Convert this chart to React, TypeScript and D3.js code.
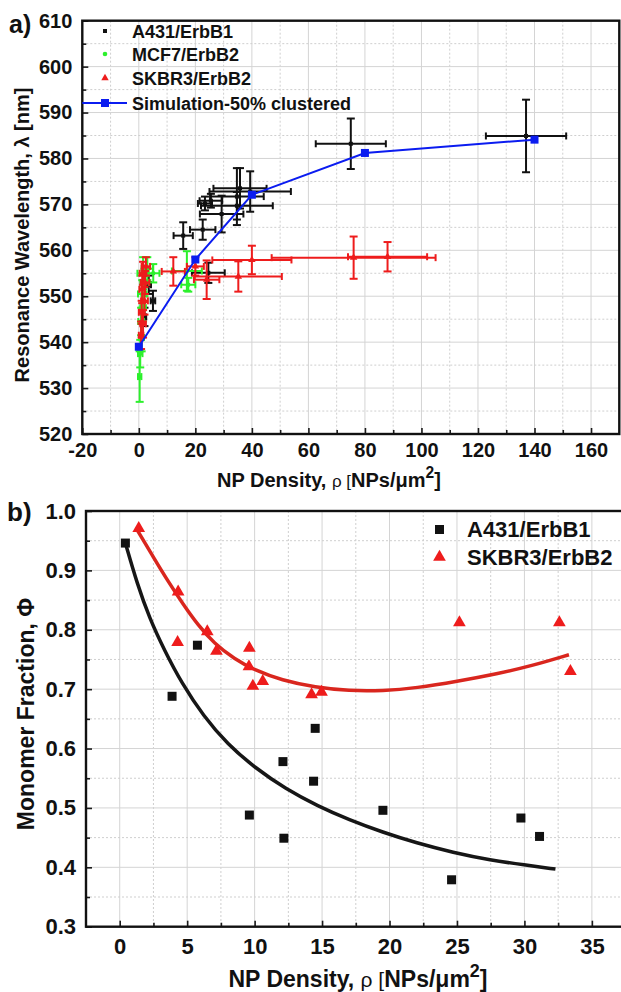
import * as d3 from 'd3';
import React, { useEffect, useRef } from 'react';

// a) rows are [density, wavelength, density error, wavelength error]
const a431Shift = [
  [137.0, 584.9, 14.2, 7.9],
  [75.0, 583.2, 12.4, 5.5],
  [39.4, 572.8, 14.4, 4.4],
  [35.8, 573.5, 9.4, 4.4],
  [34.7, 571.7, 9.5, 6.2],
  [34.7, 569.7, 12.7, 3.0],
  [29.3, 567.9, 7.7, 4.0],
  [25.5, 570.8, 4.0, 1.5],
  [23.4, 570.2, 2.5, 1.5],
  [22.6, 564.5, 4.5, 2.2],
  [15.7, 563.2, 3.4, 2.9],
  [24.6, 555.1, 5.8, 2.2],
  [5.0, 549.0, 0.8, 2.2],
  [3.5, 552.5, 0.8, 2.0],
  [2.0, 545.5, 0.6, 2.0],
];

const mcf7Shift = [
  [0.3, 532.5, 0.6, 5.5],
  [0.5, 537.5, 0.8, 3.0],
  [1.0, 541.0, 0.8, 3.0],
  [0.8, 544.5, 1.0, 3.0],
  [1.5, 547.5, 1.0, 3.0],
  [1.2, 550.5, 1.5, 3.0],
  [2.0, 553.0, 1.5, 3.0],
  [1.5, 555.0, 2.0, 3.5],
  [3.0, 556.0, 2.0, 2.5],
  [5.1, 555.0, 2.2, 2.0],
  [17.0, 555.5, 5.3, 4.3],
  [17.5, 552.5, 2.5, 1.5],
];

const skbr3Shift = [
  [0.8, 541.5, 0.8, 3.0],
  [1.5, 544.0, 1.0, 3.0],
  [1.0, 546.5, 1.0, 2.5],
  [2.0, 549.0, 1.2, 3.0],
  [1.2, 551.5, 1.0, 3.0],
  [2.2, 553.0, 1.5, 2.5],
  [1.5, 555.0, 1.2, 2.5],
  [2.5, 556.5, 1.5, 2.0],
  [12.2, 555.4, 4.1, 3.1],
  [20.0, 556.5, 3.0, 2.0],
  [24.0, 553.6, 4.5, 4.2],
  [35.2, 554.3, 15.4, 3.3],
  [40.0, 557.9, 14.0, 3.1],
  [76.0, 558.4, 29.0, 4.6],
  [88.0, 558.6, 14.0, 3.2],
];

const simDensity = [0, 20, 40, 80, 140];
const simWavelength = [539.0, 558.0, 572.1, 581.2, 584.1];

// b) monomer fraction
const a431Density = [0.42, 3.88, 5.76, 9.61, 12.1, 12.17, 14.37, 14.49, 19.51, 24.6, 29.74, 31.12];
const a431Fraction = [0.946, 0.688, 0.774, 0.488, 0.578, 0.449, 0.545, 0.634, 0.496, 0.379, 0.483, 0.452];
const skbr3Density = [1.41, 4.33, 4.29, 6.49, 7.17, 9.61, 9.58, 9.87, 10.6, 14.22, 14.96, 25.18, 32.59, 33.41];
const skbr3Fraction = [0.971, 0.864, 0.779, 0.797, 0.764, 0.769, 0.738, 0.705, 0.713, 0.691, 0.695, 0.812, 0.812, 0.73];

// fit curves
const a431FitDensity = [0.42, 1.3, 2.2, 3.3, 4.6, 6.2, 8, 10, 12.3, 14.7, 17, 19.5, 22, 24.7, 27.5, 30, 32.3];
const a431FitFraction = [0.946, 0.877, 0.82, 0.766, 0.71, 0.655, 0.607, 0.568, 0.532, 0.503, 0.48, 0.459, 0.441, 0.425, 0.412, 0.404, 0.397];
const skbr3FitDensity = [1.3, 2.5, 3.6, 4.7, 5.8, 7, 8.5, 10, 12, 14.5, 17, 19.5, 22, 25, 28, 30.5, 33.3];
const skbr3FitFraction = [0.968, 0.922, 0.881, 0.843, 0.808, 0.777, 0.751, 0.732, 0.715, 0.703, 0.697, 0.697, 0.702, 0.713, 0.726, 0.739, 0.758];

const BLACK = '#111111';
const GREEN = '#2cf02c';
const RED = '#ee1c1c';
const BLUE = '#0b1cf0';
const FONT = '"Liberation Sans", Arial, Helvetica, sans-serif';

const frameA = { left: 82.3, right: 619.3, top: 20.7, bottom: 434 };
const frameB = { left: 86, right: 625.6, top: 511, bottom: 926.7 };

const grid = (g, x, y, xv, xMajor, yv, yMajor, f) => {
  g.append('g').selectAll('line').data(xv).join('line')
    .attr('x1', d => x(d)).attr('x2', d => x(d))
    .attr('y1', f.top).attr('y2', f.bottom)
    .attr('stroke', d => xMajor(d) ? '#d4d4d4' : '#cfcfcf')
    .attr('stroke-width', 1)
    .attr('stroke-dasharray', d => xMajor(d) ? null : '2,2');
  g.append('g').selectAll('line').data(yv).join('line')
    .attr('y1', d => y(d)).attr('y2', d => y(d))
    .attr('x1', f.left).attr('x2', f.right)
    .attr('stroke', d => yMajor(d) ? '#d4d4d4' : '#cfcfcf')
    .attr('stroke-width', 1)
    .attr('stroke-dasharray', d => yMajor(d) ? null : '2,2');
};

const axisGroup = (g, axis, transform, size) => {
  const a = g.append('g').attr('transform', transform).call(axis);
  a.select('.domain').remove();
  a.selectAll('line').attr('stroke', '#1a1a1a').attr('stroke-width', 1.6);
  a.selectAll('text')
    .attr('fill', '#111')
    .style('font-size', size + 'px')
    .style('font-weight', 'bold')
    .style('font-family', FONT);
  return a;
};

const errorBars = (g, rows, x, y, color) => {
  const cap = 3.5;
  const eb = g.append('g').attr('stroke', color).attr('stroke-width', 2).attr('fill', 'none');
  rows.forEach(([px, py, ex, ey]) => {
    const cx = x(px), cy = y(py);
    const x0 = x(px - ex), x1 = x(px + ex), y0 = y(py - ey), y1 = y(py + ey);
    eb.append('line').attr('x1', x0).attr('x2', x1).attr('y1', cy).attr('y2', cy);
    eb.append('line').attr('x1', cx).attr('x2', cx).attr('y1', y0).attr('y2', y1);
    eb.append('line').attr('x1', x0).attr('x2', x0).attr('y1', cy - cap).attr('y2', cy + cap);
    eb.append('line').attr('x1', x1).attr('x2', x1).attr('y1', cy - cap).attr('y2', cy + cap);
    eb.append('line').attr('x1', cx - cap - 0.5).attr('x2', cx + cap + 0.5).attr('y1', y0).attr('y2', y0);
    eb.append('line').attr('x1', cx - cap - 0.5).attr('x2', cx + cap + 0.5).attr('y1', y1).attr('y2', y1);
  });
};

const densityTitle = (g, cx, cy, size, rhoSize) => {
  const t = g.append('text')
    .attr('x', cx).attr('y', cy)
    .attr('text-anchor', 'middle')
    .attr('font-size', size)
    .attr('font-weight', 'bold')
    .attr('fill', '#111');
  t.append('tspan').text('NP Density, ');
  t.append('tspan').attr('font-weight', 'normal').attr('font-size', rhoSize).text('ρ ');
  t.append('tspan').attr('font-weight', 'normal').attr('font-size', rhoSize).text('[');
  t.append('tspan').text('NPs/μm');
  t.append('tspan').attr('dy', -size * 0.45).attr('font-size', size * 0.78).text('2');
  t.append('tspan').attr('dy', size * 0.45).text(']');
};

const App = () => {
  const svgRef = useRef(null);

  useEffect(() => {
    const svg = d3.select(svgRef.current);
    svg.selectAll('*').remove();

    // ---------- a) ----------
    const xA = d3.scaleLinear().domain([-20, 170]).range([frameA.left, frameA.right]);
    const yA = d3.scaleLinear().domain([520, 610]).range([frameA.bottom, frameA.top]);
    const gA = svg.append('g');

    grid(gA, xA, yA, d3.range(-10, 170, 10), d => d % 20 === 0, d3.range(525, 610, 5), d => d % 10 === 0, frameA);

    axisGroup(gA, d3.axisBottom(xA).tickValues(d3.range(-20, 161, 20)).tickSize(-6).tickPadding(9).tickFormat(d => String(d)),
      `translate(0,${frameA.bottom})`, 20);
    axisGroup(gA, d3.axisBottom(xA).tickValues(d3.range(-10, 170, 20)).tickSize(-4).tickFormat(() => ''),
      `translate(0,${frameA.bottom})`, 20);
    axisGroup(gA, d3.axisLeft(yA).tickValues(d3.range(520, 611, 10)).tickSize(-6).tickPadding(10).tickFormat(d => String(d)),
      `translate(${frameA.left},0)`, 20);
    axisGroup(gA, d3.axisLeft(yA).tickValues(d3.range(525, 610, 10)).tickSize(-4).tickFormat(() => ''),
      `translate(${frameA.left},0)`, 20);

    errorBars(gA, a431Shift, xA, yA, BLACK);
    gA.append('g').selectAll('rect').data(a431Shift).join('rect')
      .attr('x', d => xA(d[0]) - 2).attr('y', d => yA(d[1]) - 2)
      .attr('width', 4).attr('height', 4).attr('fill', BLACK);

    errorBars(gA, mcf7Shift, xA, yA, GREEN);
    gA.append('g').selectAll('circle').data(mcf7Shift).join('circle')
      .attr('cx', d => xA(d[0])).attr('cy', d => yA(d[1])).attr('r', 2.2).attr('fill', GREEN);

    errorBars(gA, skbr3Shift, xA, yA, RED);
    const tri = d3.symbol().type(d3.symbolTriangle).size(24);
    gA.append('g').selectAll('path').data(skbr3Shift).join('path')
      .attr('transform', d => `translate(${xA(d[0])},${yA(d[1])})`)
      .attr('d', tri).attr('fill', RED);

    const simLine = d3.line().x(i => xA(simDensity[i])).y(i => yA(simWavelength[i]));
    gA.append('path').attr('d', simLine(d3.range(simDensity.length)))
      .attr('fill', 'none').attr('stroke', BLUE).attr('stroke-width', 2);
    gA.append('g').selectAll('rect').data(d3.range(simDensity.length)).join('rect')
      .attr('x', i => xA(simDensity[i]) - 4).attr('y', i => yA(simWavelength[i]) - 4)
      .attr('width', 8).attr('height', 8).attr('fill', BLUE);

    gA.append('rect')
      .attr('x', frameA.left).attr('y', frameA.top)
      .attr('width', frameA.right - frameA.left).attr('height', frameA.bottom - frameA.top)
      .attr('fill', 'none').attr('stroke', '#111').attr('stroke-width', 2.4);

    // legend a
    const legA = gA.append('g').attr('font-size', 18).attr('font-weight', 'bold').attr('fill', '#111');
    const legRows = [31, 54, 78, 103];
    legA.append('rect').attr('x', 103).attr('y', legRows[0] - 2).attr('width', 4).attr('height', 4).attr('fill', BLACK);
    legA.append('circle').attr('cx', 105).attr('cy', legRows[1]).attr('r', 2.3).attr('fill', GREEN);
    legA.append('path').attr('transform', `translate(105,${legRows[2]})`).attr('d', tri).attr('fill', RED);
    legA.append('line').attr('x1', frameA.left).attr('x2', 127).attr('y1', legRows[3]).attr('y2', legRows[3])
      .attr('stroke', BLUE).attr('stroke-width', 2);
    legA.append('rect').attr('x', 101).attr('y', legRows[3] - 4).attr('width', 8).attr('height', 8).attr('fill', BLUE);
    ['A431/ErbB1', 'MCF7/ErbB2', 'SKBR3/ErbB2', 'Simulation-50% clustered'].forEach((s, i) => {
      legA.append('text').attr('x', 132).attr('y', legRows[i] + 6.5).text(s);
    });

    densityTitle(gA, 329, 487, 20, 17);
    gA.append('text')
      .attr('transform', 'translate(29,235) rotate(-90)')
      .attr('text-anchor', 'middle')
      .attr('font-size', 20).attr('font-weight', 'bold').attr('fill', '#111')
      .text('Resonance Wavelength, λ [nm]');
    gA.append('text').attr('x', 9).attr('y', 33)
      .attr('font-size', 25).attr('font-weight', 'bold').attr('fill', '#111').text('a)');

    // ---------- b) ----------
    const xB = d3.scaleLinear().domain([-2.5, 37.5]).range([frameB.left, frameB.right]);
    const yB = d3.scaleLinear().domain([0.3, 1.0]).range([frameB.bottom, frameB.top]);
    const gB = svg.append('g');

    grid(gB, xB, yB, d3.range(0, 16).map(i => i * 2.5), d => Math.round(d * 2) % 10 === 0,
      d3.range(7, 20).map(i => i * 0.05), d => Math.round(d * 100) % 10 === 0, frameB);

    axisGroup(gB, d3.axisBottom(xB).tickValues(d3.range(0, 36, 5)).tickSize(-6).tickPadding(12).tickFormat(d => String(d)),
      `translate(0,${frameB.bottom})`, 22);
    axisGroup(gB, d3.axisBottom(xB).tickValues(d3.range(0, 15).map(i => i * 5 + 2.5).filter(d => d < 37)).tickSize(-4).tickFormat(() => ''),
      `translate(0,${frameB.bottom})`, 22);
    axisGroup(gB, d3.axisLeft(yB).tickValues(d3.range(3, 11).map(i => i / 10)).tickSize(-6).tickPadding(10).tickFormat(d3.format('.1f')),
      `translate(${frameB.left},0)`, 22);
    axisGroup(gB, d3.axisLeft(yB).tickValues(d3.range(3, 10).map(i => i / 10 + 0.05)).tickSize(-4).tickFormat(() => ''),
      `translate(${frameB.left},0)`, 22);

    const fit = d3.line().curve(d3.curveBasis);
    gB.append('path')
      .attr('d', fit(a431FitDensity.map((d, i) => [xB(d), yB(a431FitFraction[i])])))
      .attr('fill', 'none').attr('stroke', '#161616').attr('stroke-width', 3.5);
    gB.append('path')
      .attr('d', fit(skbr3FitDensity.map((d, i) => [xB(d), yB(skbr3FitFraction[i])])))
      .attr('fill', 'none').attr('stroke', '#d9261e').attr('stroke-width', 3.5);

    gB.append('g').selectAll('rect').data(d3.range(a431Density.length)).join('rect')
      .attr('x', i => xB(a431Density[i]) - 4.5).attr('y', i => yB(a431Fraction[i]) - 4.5)
      .attr('width', 9).attr('height', 9).attr('fill', BLACK);
    const bigTri = d3.symbol().type(d3.symbolTriangle).size(70);
    gB.append('g').selectAll('path').data(d3.range(skbr3Density.length)).join('path')
      .attr('transform', i => `translate(${xB(skbr3Density[i])},${yB(skbr3Fraction[i])})`)
      .attr('d', bigTri).attr('fill', RED);

    gB.append('rect')
      .attr('x', frameB.left).attr('y', frameB.top)
      .attr('width', frameB.right - frameB.left).attr('height', frameB.bottom - frameB.top)
      .attr('fill', 'none').attr('stroke', '#111').attr('stroke-width', 2.4);

    // legend b
    const legB = gB.append('g').attr('font-size', 22).attr('font-weight', 'bold').attr('fill', '#111');
    legB.append('rect').attr('x', 435).attr('y', 525).attr('width', 9).attr('height', 9).attr('fill', BLACK);
    legB.append('path').attr('transform', 'translate(439.5,557)').attr('d', bigTri).attr('fill', RED);
    legB.append('text').attr('x', 467).attr('y', 537).text('A431/ErbB1');
    legB.append('text').attr('x', 467).attr('y', 565).text('SKBR3/ErbB2');

    densityTitle(gB, 358, 987, 23, 21);
    gB.append('text')
      .attr('transform', 'translate(34,714) rotate(-90)')
      .attr('text-anchor', 'middle')
      .attr('font-size', 23).attr('font-weight', 'bold').attr('fill', '#111')
      .text('Monomer Fraction, Φ');
    gB.append('text').attr('x', 7).attr('y', 521)
      .attr('font-size', 26).attr('font-weight', 'bold').attr('fill', '#111').text('b)');
  }, []);

  return (
    <div style={{ position: 'absolute', left: 0, top: 0 }}>
      <svg ref={svgRef} width={621} height={992} style={{ display: 'block', background: '#fff', fontFamily: FONT }} />
    </div>
  );
};

export default App;
